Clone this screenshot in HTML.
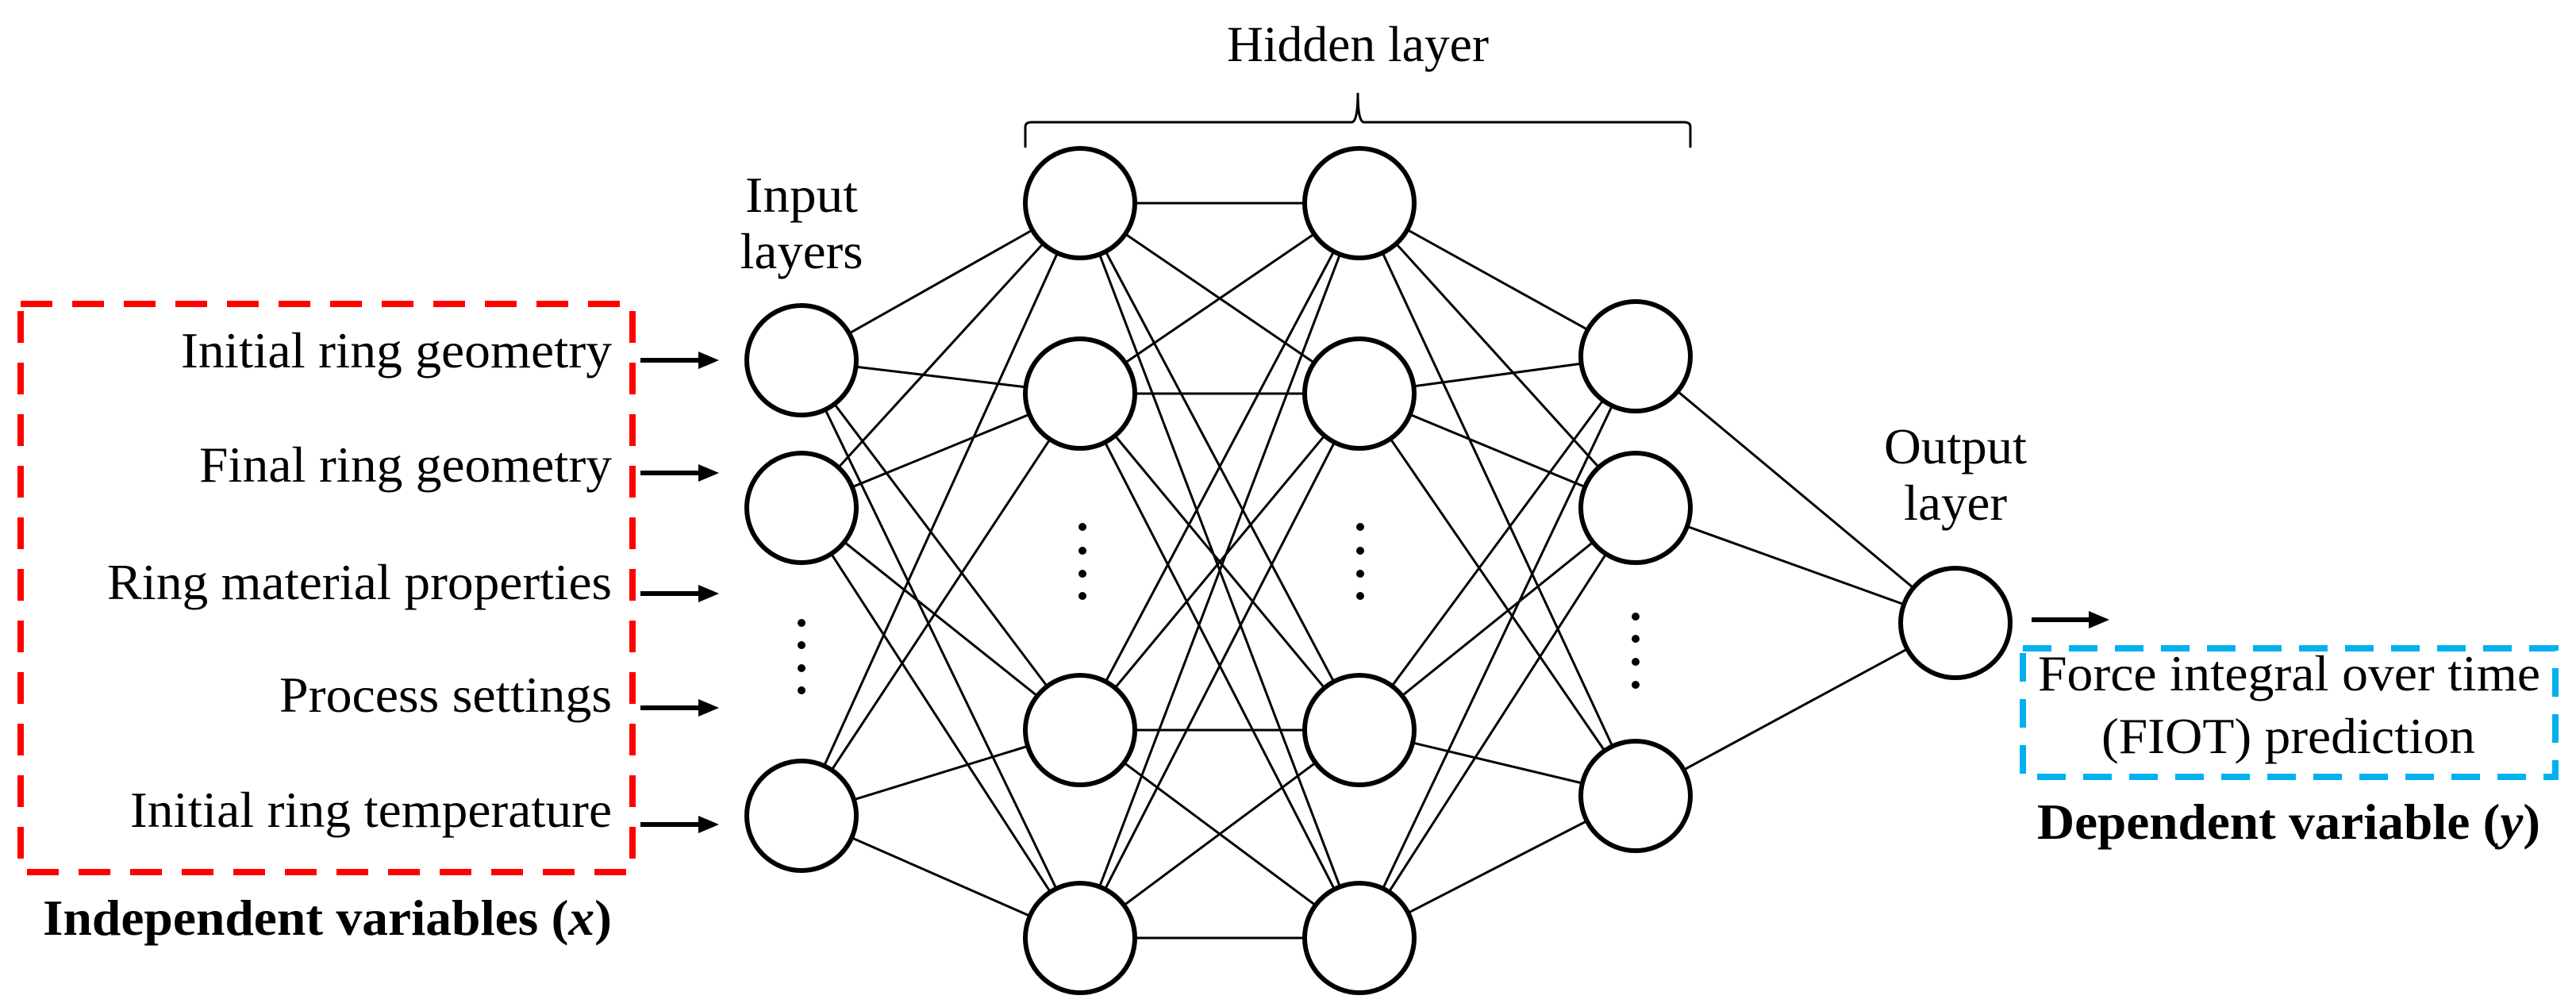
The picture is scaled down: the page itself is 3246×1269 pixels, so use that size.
<!DOCTYPE html>
<html><head><meta charset="utf-8"><style>
html,body{margin:0;padding:0;background:#fff;overflow:hidden}
svg{display:block}
text{font-family:"Liberation Serif",serif;fill:#000}
</style></head><body>
<svg width="3246" height="1269" viewBox="0 0 3246 1269" xmlns="http://www.w3.org/2000/svg">
<g stroke="#000" stroke-width="3">
<line x1="1010" y1="454" x2="1361" y2="256"/><line x1="1010" y1="454" x2="1361" y2="496"/><line x1="1010" y1="454" x2="1361" y2="920"/><line x1="1010" y1="454" x2="1361" y2="1182"/>
<line x1="1010" y1="640" x2="1361" y2="256"/><line x1="1010" y1="640" x2="1361" y2="496"/><line x1="1010" y1="640" x2="1361" y2="920"/><line x1="1010" y1="640" x2="1361" y2="1182"/>
<line x1="1010" y1="1028" x2="1361" y2="256"/><line x1="1010" y1="1028" x2="1361" y2="496"/><line x1="1010" y1="1028" x2="1361" y2="920"/><line x1="1010" y1="1028" x2="1361" y2="1182"/>
<line x1="1361" y1="256" x2="1713" y2="256"/><line x1="1361" y1="256" x2="1713" y2="496"/><line x1="1361" y1="256" x2="1713" y2="920"/><line x1="1361" y1="256" x2="1713" y2="1182"/>
<line x1="1361" y1="496" x2="1713" y2="256"/><line x1="1361" y1="496" x2="1713" y2="496"/><line x1="1361" y1="496" x2="1713" y2="920"/><line x1="1361" y1="496" x2="1713" y2="1182"/>
<line x1="1361" y1="920" x2="1713" y2="256"/><line x1="1361" y1="920" x2="1713" y2="496"/><line x1="1361" y1="920" x2="1713" y2="920"/><line x1="1361" y1="920" x2="1713" y2="1182"/>
<line x1="1361" y1="1182" x2="1713" y2="256"/><line x1="1361" y1="1182" x2="1713" y2="496"/><line x1="1361" y1="1182" x2="1713" y2="920"/><line x1="1361" y1="1182" x2="1713" y2="1182"/>
<line x1="1713" y1="256" x2="2061" y2="449"/><line x1="1713" y1="256" x2="2061" y2="640"/><line x1="1713" y1="256" x2="2061" y2="1003"/>
<line x1="1713" y1="496" x2="2061" y2="449"/><line x1="1713" y1="496" x2="2061" y2="640"/><line x1="1713" y1="496" x2="2061" y2="1003"/>
<line x1="1713" y1="920" x2="2061" y2="449"/><line x1="1713" y1="920" x2="2061" y2="640"/><line x1="1713" y1="920" x2="2061" y2="1003"/>
<line x1="1713" y1="1182" x2="2061" y2="449"/><line x1="1713" y1="1182" x2="2061" y2="640"/><line x1="1713" y1="1182" x2="2061" y2="1003"/>
<line x1="2061" y1="449" x2="2464" y2="785"/><line x1="2061" y1="640" x2="2464" y2="785"/><line x1="2061" y1="1003" x2="2464" y2="785"/>
</g>
<g fill="#fff" stroke="#000" stroke-width="6">
<circle cx="1010" cy="454" r="69"/><circle cx="1010" cy="640" r="69"/><circle cx="1010" cy="1028" r="69"/>
<circle cx="1361" cy="256" r="69"/><circle cx="1361" cy="496" r="69"/><circle cx="1361" cy="920" r="69"/><circle cx="1361" cy="1182" r="69"/>
<circle cx="1713" cy="256" r="69"/><circle cx="1713" cy="496" r="69"/><circle cx="1713" cy="920" r="69"/><circle cx="1713" cy="1182" r="69"/>
<circle cx="2061" cy="449" r="69"/><circle cx="2061" cy="640" r="69"/><circle cx="2061" cy="1003" r="69"/>
<circle cx="2464" cy="785" r="69"/>
</g>
<rect x="26" y="383" width="771" height="716" fill="none" stroke="#ff0000" stroke-width="8" stroke-dasharray="40,25"/>
<rect x="2549" y="817" width="671" height="162" fill="none" stroke="#00b0f0" stroke-width="8" stroke-dasharray="36,22"/>
<path d="M1292,186 L1292,160 Q1292,154 1300,154 L1703,154 Q1711,154 1711,117 Q1711,154 1719,154 L2122,154 Q2130,154 2130,160 L2130,186" fill="none" stroke="#000" stroke-width="3"/>
<g stroke="#000" stroke-width="6">
<line x1="807" y1="454" x2="884" y2="454"/><line x1="807" y1="596" x2="884" y2="596"/><line x1="807" y1="748" x2="884" y2="748"/><line x1="807" y1="892" x2="884" y2="892"/><line x1="807" y1="1039" x2="884" y2="1039"/><line x1="2560" y1="781" x2="2636" y2="781"/>
</g>
<g fill="#000">
<path d="M880,443 L906,454 L880,465Z"/><path d="M880,585 L906,596 L880,607Z"/><path d="M880,737 L906,748 L880,759Z"/><path d="M880,881 L906,892 L880,903Z"/><path d="M880,1028 L906,1039 L880,1050Z"/><path d="M2632,770 L2658,781 L2632,792Z"/>
<circle cx="1010" cy="785" r="5"/><circle cx="1010" cy="813" r="5"/><circle cx="1010" cy="842" r="5"/><circle cx="1010" cy="870" r="5"/>
<circle cx="1364" cy="664" r="5"/><circle cx="1364" cy="694" r="5"/><circle cx="1364" cy="723" r="5"/><circle cx="1364" cy="751" r="5"/>
<circle cx="1714" cy="664" r="5"/><circle cx="1714" cy="694" r="5"/><circle cx="1714" cy="723" r="5"/><circle cx="1714" cy="751" r="5"/>
<circle cx="2061" cy="777" r="5"/><circle cx="2061" cy="805" r="5"/><circle cx="2061" cy="834" r="5"/><circle cx="2061" cy="863" r="5"/>
</g>
<g font-size="64">
<text x="1711" y="77" text-anchor="middle" textLength="330" lengthAdjust="spacingAndGlyphs">Hidden layer</text>
<text x="1010" y="267" text-anchor="middle" textLength="142" lengthAdjust="spacingAndGlyphs">Input</text>
<text x="1010" y="338" text-anchor="middle" textLength="155" lengthAdjust="spacingAndGlyphs">layers</text>
<text x="2464" y="584" text-anchor="middle" textLength="180" lengthAdjust="spacingAndGlyphs">Output</text>
<text x="2464" y="655" text-anchor="middle" textLength="130" lengthAdjust="spacingAndGlyphs">layer</text>
<text x="228" y="463" textLength="543" lengthAdjust="spacingAndGlyphs">Initial ring geometry</text>
<text x="251" y="607" textLength="520" lengthAdjust="spacingAndGlyphs">Final ring geometry</text>
<text x="135" y="755" textLength="636" lengthAdjust="spacingAndGlyphs">Ring material properties</text>
<text x="352" y="897" textLength="419" lengthAdjust="spacingAndGlyphs">Process settings</text>
<text x="164" y="1042" textLength="607" lengthAdjust="spacingAndGlyphs">Initial ring temperature</text>
<text x="54" y="1178" font-weight="bold" textLength="717" lengthAdjust="spacingAndGlyphs">Independent variables (<tspan font-style="italic">x</tspan>)</text>
<text x="2568" y="870" textLength="633" lengthAdjust="spacingAndGlyphs">Force integral over time</text>
<text x="2648" y="949" textLength="471" lengthAdjust="spacingAndGlyphs">(FIOT) prediction</text>
<text x="2567" y="1057" font-weight="bold" textLength="634" lengthAdjust="spacingAndGlyphs">Dependent variable (<tspan font-style="italic">y</tspan>)</text>
</g>
</svg>
</body></html>
